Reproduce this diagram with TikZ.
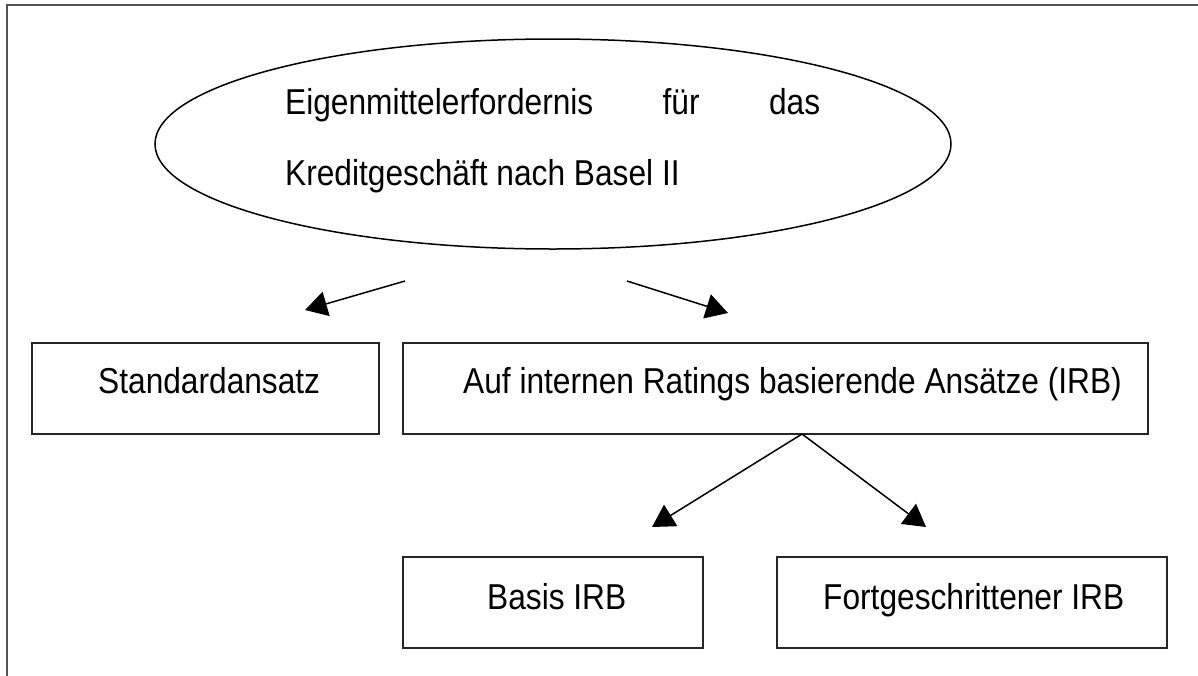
\documentclass[tikz,border=0pt]{standalone}
\usepackage{fontspec}
\setmainfont{Liberation Sans}[FakeStretch=0.88]
\usetikzlibrary{arrows.meta,shapes.geometric}
\begin{document}
\begin{tikzpicture}[x=1pt,y=1pt,
  every node/.style={font=\fontsize{36}{42}\selectfont, text=black},
  frameline/.style={draw=black!68, line width=2pt},
  boxnode/.style={draw=black!85, line width=1.5pt, rectangle, inner sep=0pt},
  ovalnode/.style={draw=black, line width=1.5pt, ellipse, inner sep=0pt},
  txt/.style={anchor=base west, inner sep=0pt},
  arr/.style={draw=black, line width=1.5pt, -{Triangle[length=22pt,width=25pt]}}
]
\useasboundingbox (0,0) rectangle (1198,-675);
\fill[white] (0,0) rectangle (1198,-675);
% outer frame (right and bottom lie outside the picture)
\coordinate (fTL) at (7,-5);
\coordinate (fTR) at (1210,-5);
\coordinate (fBL) at (7,-690);
\draw[frameline] (fBL) -- (fTL) -- (fTR);

% ellipse
\node[ovalnode, minimum width=796pt, minimum height=210pt] (top) at (553,-144) {};
\node[txt] (topA) at (285,-114) {\makebox[535pt][s]{Eigenmittelerfordernis\hfill für\hfill das}};
\node[txt] (topB) at (285,-185) {Kreditgeschäft nach Basel II};

% level 1 boxes
\node[boxnode, minimum width=347pt, minimum height=91pt] (std) at (205.5,-388.5) {};
\node[txt] (stdT) at (98,-393) {Standardansatz};
\node[boxnode, minimum width=745pt, minimum height=91pt] (irb) at (775.5,-388.5) {};
\node[txt] (irbT) at (463,-393) {Auf internen Ratings basierende Ansätze (IRB)};

% level 2 boxes
\node[boxnode, minimum width=300pt, minimum height=91pt] (basis) at (553,-602.5) {};
\node[txt] (basisT) at (487,-609) {Basis IRB};
\node[boxnode, minimum width=390pt, minimum height=91pt] (fort) at (972,-602.5) {};
\node[txt] (fortT) at (823,-609) {Fortgeschrittener IRB};

% connectors
\coordinate (a1s) at (405,-281);
\coordinate (a1e) at (305,-310);
\coordinate (a2s) at (627,-281);
\coordinate (a2e) at (728,-313);
\coordinate (fork) at (802,-434);
\coordinate (a3e) at (652,-527);
\coordinate (a4e) at (926,-527);
\draw[arr] (a1s) -- (a1e);
\draw[arr] (a2s) -- (a2e);
\draw[arr] (fork) -- (a3e);
\draw[arr] (fork) -- (a4e);
\end{tikzpicture}
\end{document}
